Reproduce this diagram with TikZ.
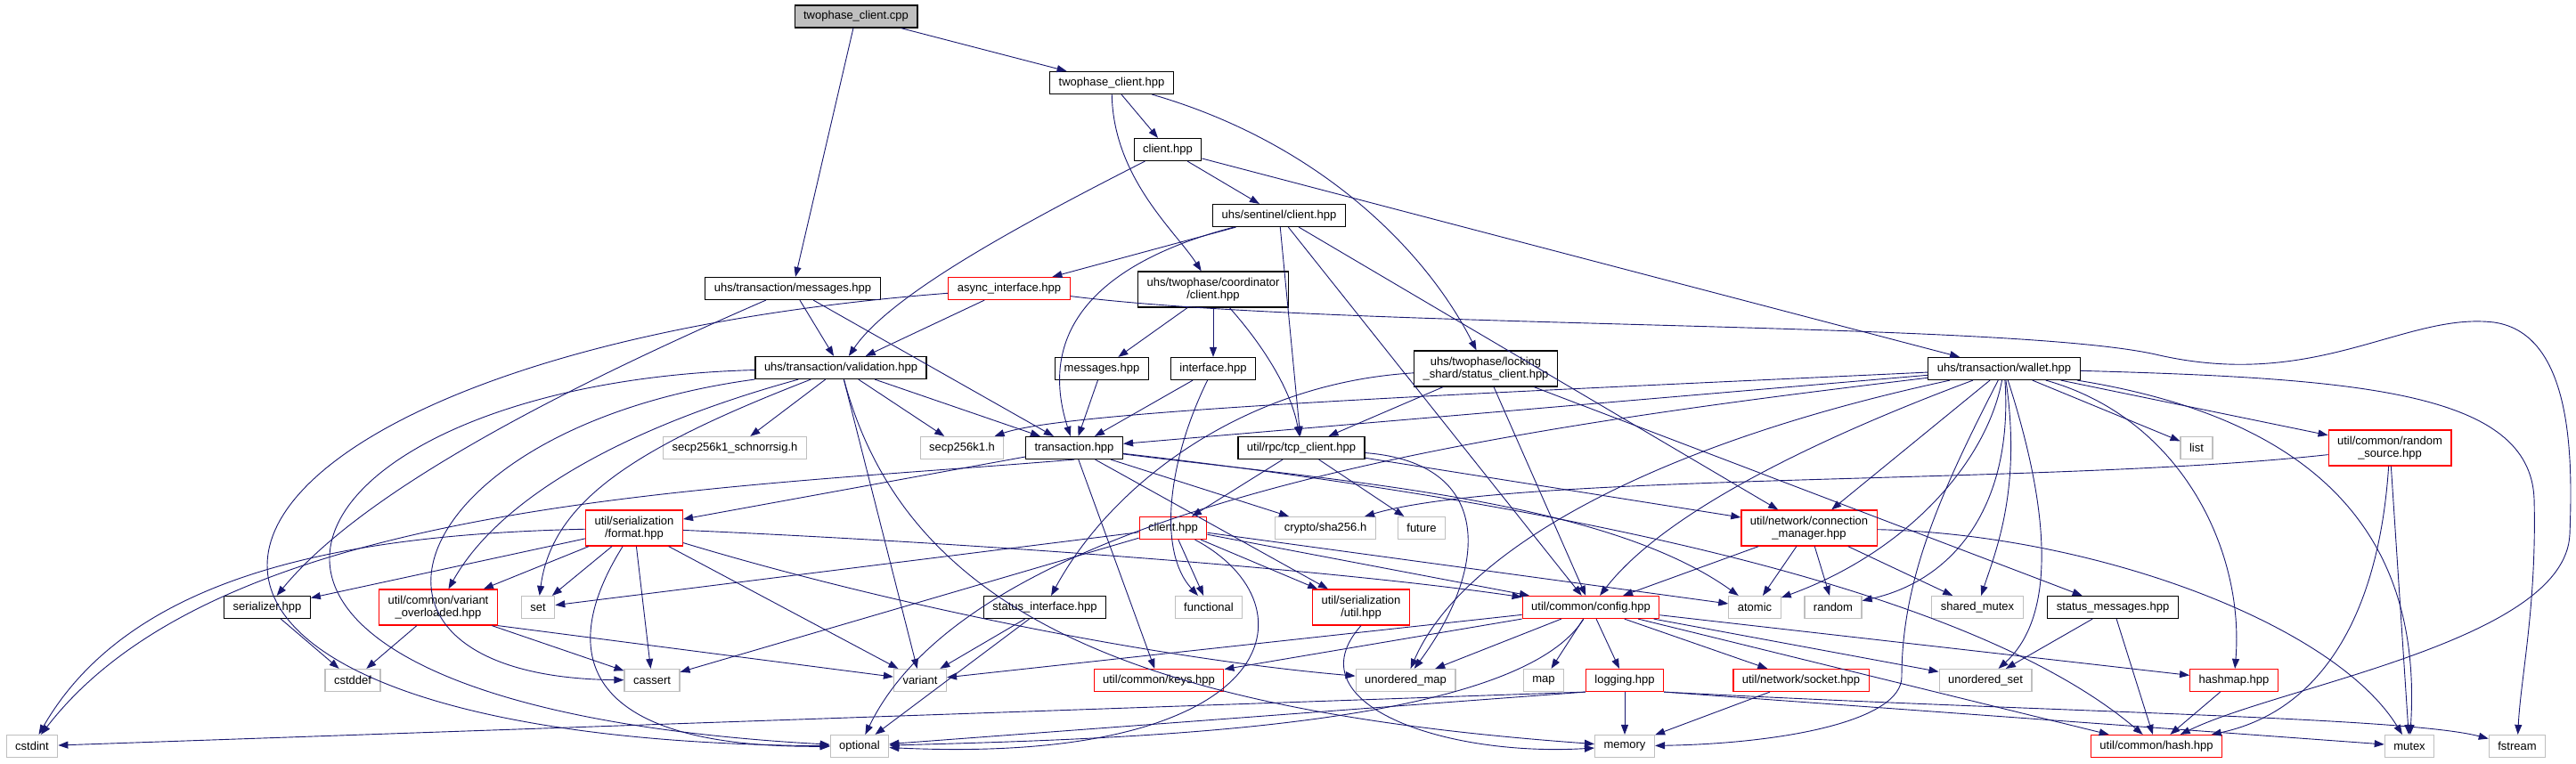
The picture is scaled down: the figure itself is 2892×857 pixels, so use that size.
\documentclass[tikz,border=0pt]{standalone}
\usepackage{fontspec}
\setmainfont{Liberation Sans}
\usetikzlibrary{arrows.meta}
\definecolor{edgeA}{HTML}{191970}
\definecolor{grayA}{HTML}{BFBFBF}
\definecolor{redA}{HTML}{FF0000}
\tikzset{
  hdr/.style={
    draw=black, line width=1.2pt, align=center, inner xsep=10pt, inner ysep=2pt,
    minimum height=25pt, font=\fontsize{13}{14.5}\selectfont
  },
  hdrred/.style={hdr, draw=redA},
  syshdr/.style={hdr, draw=grayA},
  rootfile/.style={hdr, fill=grayA},
  tall/.style={minimum height=40pt},
  incl/.style={-{Triangle[length=11pt,width=8pt]}, draw=edgeA, line width=0.9pt}
}

\begin{document}
\begin{tikzpicture}[x=1pt,y=-1pt]
  \useasboundingbox (0,0) rectangle (2892,857);

  \node[rootfile] (cpp) at (961,18.5) {twophase\_client.cpp};
  \node[hdr] (tch) at (1248,93) {twophase\_client.hpp};
  \node[hdr] (clh) at (1311,168) {client.hpp};
  \node[hdr] (sent) at (1436,242) {uhs/sentinel/client.hpp};
  \node[hdr] (tmsg) at (890,324) {uhs/transaction/messages.hpp};
  \node[hdrred] (async) at (1133,324) {async\_interface.hpp};
  \node[hdr, tall] (coord) at (1362,325) {uhs/twophase/coordinator\\/client.hpp};
  \node[hdr] (val) at (944,413) {uhs/transaction/validation.hpp};
  \node[hdr] (msgs) at (1237,414) {messages.hpp};
  \node[hdr] (iface) at (1362,414) {interface.hpp};
  \node[hdr, tall] (lsc) at (1668,414) {uhs/twophase/locking\\\_shard/status\_client.hpp};
  \node[hdr] (wal) at (2250,414) {uhs/transaction/wallet.hpp};
  \node[syshdr] (schnorr) at (825,503) {secp256k1\_schnorrsig.h};
  \node[syshdr] (secp) at (1080,503) {secp256k1.h};
  \node[hdr] (tx) at (1206,503) {transaction.hpp};
  \node[hdr] (tcp) at (1461,503) {util/rpc/tcp\_client.hpp};
  \node[syshdr] (list) at (2466,503) {list};
  \node[hdrred, tall] (rnd) at (2683,503) {util/common/random\\\_source.hpp};
  \node[hdrred, tall] (fmt) at (712,593) {util/serialization\\/format.hpp};
  \node[hdrred] (clr) at (1317,593) {client.hpp};
  \node[syshdr] (sha) at (1488,593) {crypto/sha256.h};
  \node[syshdr] (future) at (1596,593) {future};
  \node[hdrred, tall] (cm) at (2031,593) {util/network/connection\\\_manager.hpp};
  \node[hdr] (ser) at (300,682) {serializer.hpp};
  \node[hdrred, tall] (vo) at (492,682) {util/common/variant\\\_overloaded.hpp};
  \node[syshdr] (set) at (604,682) {set};
  \node[hdr] (si) at (1173,682) {status\_interface.hpp};
  \node[syshdr] (func) at (1357,682) {functional};
  \node[hdrred, tall] (su) at (1528,682) {util/serialization\\/util.hpp};
  \node[hdrred] (cfg) at (1786,682) {util/common/config.hpp};
  \node[syshdr] (atomic) at (1970,682) {atomic};
  \node[syshdr] (random) at (2058,682) {random};
  \node[syshdr] (smx) at (2220,682) {shared\_mutex};
  \node[hdr] (sm) at (2372,682) {status\_messages.hpp};
  \node[syshdr] (cstddef) at (396,764) {cstddef};
  \node[syshdr] (cassert) at (732,764) {cassert};
  \node[syshdr] (variant) at (1033,764) {variant};
  \node[hdrred] (keys) at (1301,764) {util/common/keys.hpp};
  \node[syshdr] (umap) at (1578,764) {unordered\_map};
  \node[syshdr] (map) at (1733,764) {map};
  \node[hdrred] (log) at (1824,764) {logging.hpp};
  \node[hdrred] (sock) at (2022,764) {util/network/socket.hpp};
  \node[syshdr] (uset) at (2229,764) {unordered\_set};
  \node[hdrred] (hmap) at (2508,764) {hashmap.hpp};
  \node[syshdr] (cstdint) at (36,838) {cstdint};
  \node[syshdr] (optional) at (965,838) {optional};
  \node[syshdr] (memory) at (1824,838) {memory};
  \node[hdrred] (hash) at (2421,838) {util/common/hash.hpp};
  \node[syshdr] (mutex) at (2705,838) {mutex};
  \node[syshdr] (fstream) at (2826,838) {fstream};

  \draw[incl] (cpp) -- (tch);
  \draw[incl] (cpp) -- (tmsg);
  \draw[incl] (tch) -- (clh);
  \draw[incl] (tch) .. controls (1250,200) and (1320,260) .. (coord);
  \draw[incl] (tch) .. controls (1480,160) and (1600,280) .. (lsc);
  \draw[incl] (clh) -- (sent);
  \draw[incl] (clh) .. controls (1150,250) and (1000,330) .. (val);
  \draw[incl] (clh) -- (wal);
  \draw[incl] (sent) -- (async);
  \draw[incl] (sent) .. controls (1250,290) and (1160,360) .. (tx);
  \draw[incl] (sent) -- (tcp);
  \draw[incl] (sent) -- (cfg);
  \draw[incl] (sent) -- (cm);
  \draw[incl] (tmsg) -- (val);
  \draw[incl] (tmsg) -- (tx);
  \draw[incl] (tmsg) .. controls (600,450) and (400,560) .. (ser);
  \draw[incl] (async) -- (val);
  \draw[incl] (async) .. controls (150,400) and (0,830) .. (optional);
  \draw[incl] (async) .. controls (1500,370) and (2250,360) .. (2420,398)
    .. controls (2600,440) and (2700,350) .. (2800,362)
    .. controls (2890,375) and (2888,520) .. (2885,600)
    .. controls (2880,720) and (2560,770) .. (hash);
  \draw[incl] (coord) -- (msgs);
  \draw[incl] (coord) -- (iface);
  \draw[incl] (coord) .. controls (1420,390) and (1450,440) .. (tcp);
  \draw[incl] (val) -- (schnorr);
  \draw[incl] (val) -- (secp);
  \draw[incl] (val) -- (tx);
  \draw[incl] (val) -- (variant);
  \draw[incl] (val) .. controls (1020,700) and (1300,800) .. (memory);
  \draw[incl] (val) .. controls (300,430) and (100,790) .. (optional);
  \draw[incl] (val) .. controls (450,480) and (350,760) .. (cassert);
  \draw[incl] (val) .. controls (700,480) and (560,560) .. (vo);
  \draw[incl] (val) .. controls (720,500) and (620,560) .. (set);
  \draw[incl] (msgs) -- (tx);
  \draw[incl] (iface) -- (tx);
  \draw[incl] (iface) .. controls (1310,520) and (1300,620) .. (func);
  \draw[incl] (lsc) -- (tcp);
  \draw[incl] (lsc) -- (cfg);
  \draw[incl] (lsc) -- (sm);
  \draw[incl] (lsc) .. controls (1400,430) and (1250,540) .. (si);
  \draw[incl] (wal) -- (list);
  \draw[incl] (wal) -- (rnd);
  \draw[incl] (wal) .. controls (1700,440) and (1200,460) .. (secp);
  \draw[incl] (wal) -- (tx);
  \draw[incl] (wal) -- (cm);
  \draw[incl] (wal) .. controls (2100,470) and (1880,560) .. (cfg);
  \draw[incl] (wal) .. controls (2230,520) and (2140,620) .. (atomic);
  \draw[incl] (wal) .. controls (2260,560) and (2200,650) .. (random);
  \draw[incl] (wal) .. controls (2270,550) and (2240,620) .. (smx);
  \draw[incl] (wal) .. controls (1850,500) and (1640,620) .. (umap);
  \draw[incl] (wal) .. controls (2310,600) and (2300,700) .. (uset);
  \draw[incl] (wal) .. controls (2450,470) and (2520,620) .. (hmap);
  \draw[incl] (wal) .. controls (2600,470) and (2720,600) .. (mutex);
  \draw[incl] (wal) .. controls (2650,425) and (2840,440) .. (2845,560)
    .. controls (2848,680) and (2830,760) .. (fstream);
  \draw[incl] (wal) .. controls (2180,550) and (2135,650) .. (2135,760)
    .. controls (2135,810) and (2000,835) .. (memory);
  \draw[incl] (wal) .. controls (1700,480) and (1100,560) .. (optional);
  \draw[incl] (tx.south) .. controls (800,550) and (250,560) .. (cstdint);
  \draw[incl] (tx) -- (fmt);
  \draw[incl] (tx) -- (sha);
  \draw[incl] (tx) -- (su);
  \draw[incl] (tx) -- (keys);
  \draw[incl] (tx) .. controls (1500,540) and (1800,560) .. (atomic);
  \draw[incl] (tx) .. controls (1700,560) and (2200,650) .. (hash);
  \draw[incl] (tcp) -- (clr);
  \draw[incl] (tcp) -- (future);
  \draw[incl] (tcp) -- (cm);
  \draw[incl] (tcp) .. controls (1680,520) and (1670,640) .. (umap);
  \draw[incl] (rnd) .. controls (2300,545) and (1700,530) .. (sha);
  \draw[incl] (rnd) .. controls (2670,700) and (2600,800) .. (hash);
  \draw[incl] (rnd) -- (mutex);
  \draw[incl] (fmt) .. controls (400,600) and (150,640) .. (cstdint);
  \draw[incl] (fmt) .. controls (620,740) and (660,840) .. (optional);
  \draw[incl] (fmt) -- (ser);
  \draw[incl] (fmt) -- (vo);
  \draw[incl] (fmt) -- (set);
  \draw[incl] (fmt) -- (cassert);
  \draw[incl] (fmt) -- (variant);
  \draw[incl] (fmt) .. controls (1000,680) and (1300,740) .. (umap);
  \draw[incl] (fmt) .. controls (1100,610) and (1500,640) .. (cfg);
  \draw[incl] (clr) -- (set);
  \draw[incl] (clr) -- (cassert);
  \draw[incl] (clr) -- (func);
  \draw[incl] (clr) -- (su);
  \draw[incl] (clr) .. controls (1480,680) and (1440,860) .. (optional);
  \draw[incl] (clr) -- (cfg);
  \draw[incl] (clr) -- (atomic);
  \draw[incl] (cm) -- (cfg);
  \draw[incl] (cm) -- (atomic);
  \draw[incl] (cm) -- (random);
  \draw[incl] (cm) -- (smx);
  \draw[incl] (cm) .. controls (2350,600) and (2620,700) .. (mutex);
  \draw[incl] (cfg) -- (variant);
  \draw[incl] (cfg) -- (keys);
  \draw[incl] (cfg) -- (umap);
  \draw[incl] (cfg) -- (map);
  \draw[incl] (cfg) -- (log);
  \draw[incl] (cfg) -- (sock);
  \draw[incl] (cfg) -- (uset);
  \draw[incl] (cfg) -- (hmap);
  \draw[incl] (cfg) -- (hash);
  \draw[incl] (cfg) .. controls (1700,820) and (1250,830) .. (optional);
  \draw[incl] (log) -- (memory);
  \draw[incl] (log.south west) -- (cstdint);
  \draw[incl] (log.south west) -- (optional);
  \draw[incl] (log.south east) -- (mutex);
  \draw[incl] (log.south east) .. controls (2300,800) and (2700,805) .. (fstream);
  \draw[incl] (sock) -- (memory);
  \draw[incl] (su.south) .. controls (1450,790) and (1620,850) .. (memory);
  \draw[incl] (si) -- (variant);
  \draw[incl] (si) -- (optional);
  \draw[incl] (vo) -- (cstddef);
  \draw[incl] (vo) -- (cassert);
  \draw[incl] (vo.south east) -- (variant);
  \draw[incl] (ser) -- (cstddef);
  \draw[incl] (hmap) -- (hash);
  \draw[incl] (sm) -- (hash);
  \draw[incl] (sm) -- (uset);
\end{tikzpicture}
\end{document}
